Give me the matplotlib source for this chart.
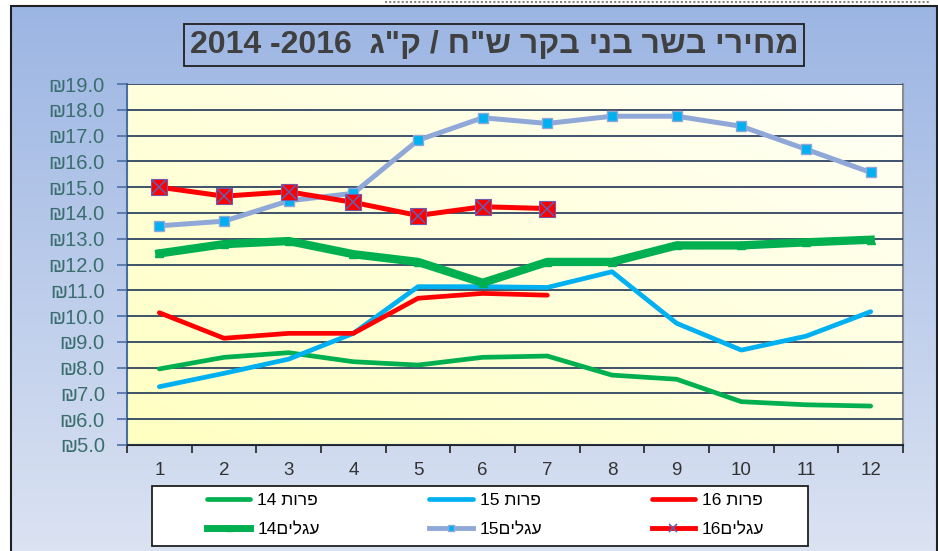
import matplotlib
matplotlib.use("Agg")
import matplotlib.pyplot as plt
import numpy as np
from matplotlib.patches import Rectangle
from matplotlib.lines import Line2D

plt.rcParams['font.family'] = ['Liberation Sans', 'DejaVu Sans']

# Data
months = [1, 2, 3, 4, 5, 6, 7, 8, 9, 10, 11, 12]
cows14 = [7.95, 8.40, 8.58, 8.23, 8.10, 8.40, 8.45, 7.71, 7.55, 6.68, 6.56, 6.51]
cows15 = [7.26, 7.78, 8.33, 9.33, 11.14, 11.14, 11.11, 11.72, 9.72, 8.68, 9.22, 10.17]
cows16 = [10.13, 9.14, 9.33, 9.33, 10.69, 10.88, 10.81]
calves14 = [12.43, 12.79, 12.91, 12.40, 12.10, 11.29, 12.10, 12.10, 12.74, 12.74, 12.86, 12.96]
calves15 = [13.50, 13.68, 14.47, 14.76, 16.82, 17.69, 17.47, 17.75, 17.75, 17.36, 16.47, 15.57]
calves16 = [15.00, 14.65, 14.82, 14.41, 13.90, 14.24, 14.17]

title_he = 'מחירי בשר בני בקר ש"ח / ק"ג'
# matplotlib has no bidi support, so Hebrew is written in visual order
title = '2014 -2016  ' + title_he[::-1]
lbl_cows = [('14 ' + 'פרות'[::-1]), ('15 ' + 'פרות'[::-1]), ('16 ' + 'פרות'[::-1])]
lbl_calves = [('14' + 'עגלים'[::-1]), ('15' + 'עגלים'[::-1]), ('16' + 'עגלים'[::-1])]

fig = plt.figure(figsize=(9.38, 5.51), dpi=100)

# background gradient of the chart area
bg = fig.add_axes([0, 0, 1, 1], zorder=-10)
grad = np.linspace(0, 1, 256).reshape(-1, 1)
top = np.array([0.61, 0.71, 0.89])
bot = np.array([0.86, 0.89, 0.95])
img = top + (bot - top) * grad[:, :, None]
bg.imshow(img, aspect='auto', extent=[11 / 938, 1, 0, 1 - 6 / 551])
bg.set_xlim(0, 1)
bg.set_ylim(0, 1)
bg.axis('off')
bg.add_patch(Rectangle((11 / 938, -0.01), (937 - 11) / 938, 1 - 6 / 551 + 0.01,
                       fill=False, edgecolor='#202020', linewidth=1.5))
bg.plot([385 / 938, 930 / 938], [1 - 1.5 / 551] * 2, color='#888888', lw=1.5, ls=(0, (1, 1)))
# legend box
bg.add_patch(Rectangle((152 / 938, 1 - 546 / 551), (808 - 152) / 938, 60 / 551,
                       facecolor='white', edgecolor='#202020', linewidth=1.3, zorder=2))

ax = fig.add_axes([127 / 938, 1 - 445 / 551, (903 - 127) / 938, (445 - 84) / 551])

# yellow plot-area gradient
gx, gy = np.meshgrid(np.linspace(0, 1, 200), np.linspace(0, 1, 200))
t = np.clip((gx + (1 - gy)) / 2, 0, 1)
c0 = np.array([1.0, 1.0, 0.76])
c1 = np.array([1.0, 1.0, 0.97])
pimg = c0 + (c1 - c0) * t[:, :, None]
ax.imshow(pimg, aspect='auto', extent=[-0.5, 11.5, 5, 19], origin='upper', zorder=0)

x = np.arange(len(months))
n16 = len(cows16)

ax.plot(x, cows14, color='#00b050', lw=3.4, solid_capstyle='round', zorder=3)
ax.plot(x, cows15, color='#00b0f0', lw=3.4, solid_capstyle='round', zorder=3)
ax.plot(x[:n16], cows16, color='#ff0000', lw=3.4, solid_capstyle='round', zorder=3)
ax.plot(x, calves14, color='#00b050', lw=6, marker='^', ms=6, mfc='#00b050', mec='#00b050', zorder=4)
ax.plot(x, calves15, color='#8fa8d8', lw=3.6, marker='s', ms=7, mfc='#00b0f0', mec='#8fa8d8', mew=1, zorder=4)
ax.plot(x[:n16], calves16, color='#ff0000', lw=3.6, marker='s', ms=11, mfc='#ff0000', mec='#7a5aa8', mew=0.8, zorder=5)
ax.plot(x[:n16], calves16, ls='none', marker='x', ms=10, mec='#6a5aa8', mew=1.2, zorder=6)

ax.set_xlim(-0.5, 11.5)
ax.set_ylim(5, 19)
ax.set_yticks(np.arange(5, 20, 1))
ax.set_yticklabels(['₪%.1f' % v for v in np.arange(5, 20, 1)], color='#3a6e6e', fontsize=14.5)
ax.yaxis.grid(True, color='#1f3556', lw=1.2, zorder=1)
ax.set_axisbelow(False)
ax.tick_params(axis='y', direction='out', length=7, color='#4a6fa5', width=1.2, pad=9)

ax.set_xticks(np.arange(-0.5, 12, 1))
ax.set_xticklabels([])
ax.set_xticks(x, minor=True)
ax.set_xticklabels([str(m) for m in months], minor=True, color='#333333', fontsize=13.5)
ax.tick_params(axis='x', which='major', direction='out', length=6, width=1.2, color='#222222')
ax.tick_params(axis='x', which='minor', length=0, pad=12)

ax.spines['top'].set_visible(False)
ax.spines['left'].set_color('#4a6fa5')
ax.spines['left'].set_linewidth(1.5)
ax.spines['bottom'].set_color('#222222')
ax.spines['bottom'].set_linewidth(1.5)
ax.spines['right'].set_color('#8c8c8c')
ax.spines['right'].set_linewidth(1.5)

fig.text(0.527, 1 - 45 / 551, title, ha='center', va='center', fontsize=23, fontweight='bold',
         color='#404040',
         bbox=dict(boxstyle='square,pad=0.18', facecolor='none', edgecolor='#202020', linewidth=1.3))

handles = [
    Line2D([], [], color='#00b050', lw=3.4, solid_capstyle='round'),
    Line2D([], [], color='#00b050', lw=5, marker='^', ms=4, mfc='#00b050', mec='#00b050'),
    Line2D([], [], color='#00b0f0', lw=3.4, solid_capstyle='round'),
    Line2D([], [], color='#8fa8d8', lw=3.5, marker='s', ms=5, mfc='#00b0f0', mec='#8fa8d8'),
    Line2D([], [], color='#ff0000', lw=3.4, solid_capstyle='round'),
    Line2D([], [], color='#ff0000', lw=3.5, marker='x', ms=6, mec='#6a5aa8', mew=1.2),
]
labels = [lbl_cows[0], lbl_calves[0], lbl_cows[1], lbl_calves[1], lbl_cows[2], lbl_calves[2]]
leg = fig.legend(handles, labels, ncol=3, loc='center left',
                 bbox_to_anchor=(207 / 938, 1 - 515 / 551), fontsize=12.5,
                 frameon=False, handlelength=2.5, handletextpad=0.4, columnspacing=6.3,
                 borderpad=0, labelspacing=0.85, borderaxespad=0)

fig.savefig('out.png', dpi=100)
